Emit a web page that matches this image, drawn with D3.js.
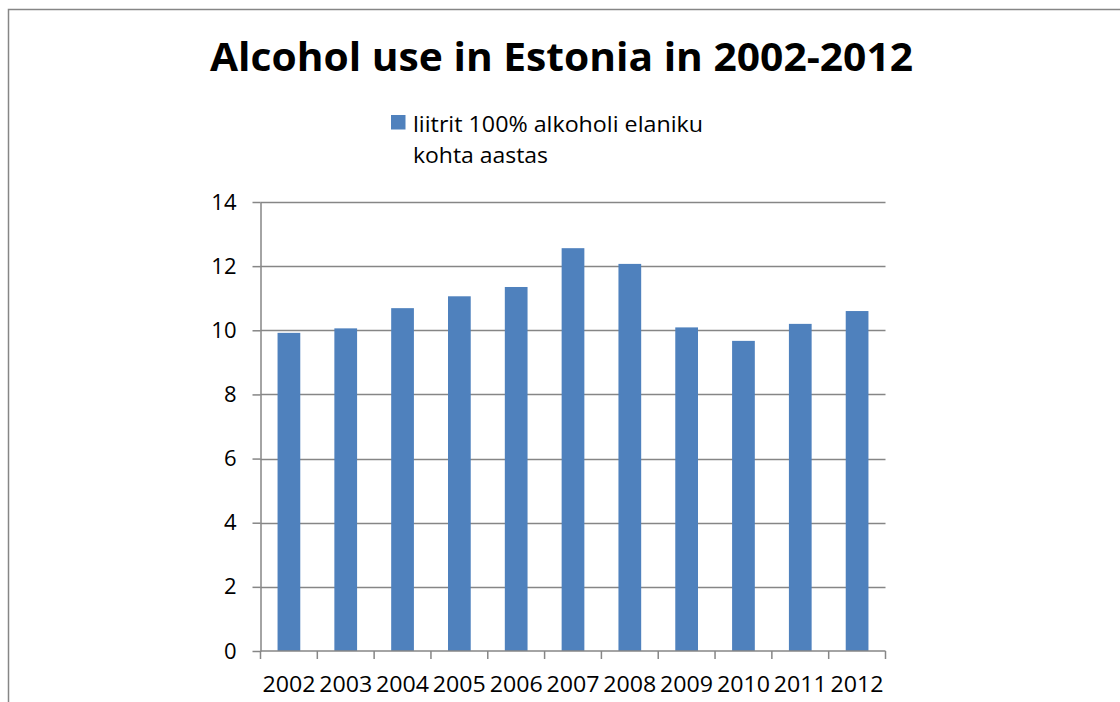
<!DOCTYPE html>
<html>
<head>
<meta charset="utf-8">
<script src="https://cdn.jsdelivr.net/npm/d3@7"></script>
<style>
  body { margin: 0; background: #fff; }
  svg { display: block; font-family: 'Open Sans', sans-serif; }
</style>
</head>
<body>
<svg id="chart" width="1120" height="702"></svg>
<script>
'use strict';

const years = ['2002', '2003', '2004', '2005', '2006', '2007', '2008', '2009', '2010', '2011', '2012'];
const litres = [9.92, 10.06, 10.69, 11.06, 11.35, 12.56, 12.07, 10.09, 9.67, 10.2, 10.6];
const yTicks = [0, 2, 4, 6, 8, 10, 12, 14];
const titleText = 'Alcohol use in Estonia in 2002-2012';
const legendLines = ['liitrit 100% alkoholi elaniku', 'kohta aastas'];

const svg = d3.select('#chart');
const plot = {left: 260.5, right: 885.5, top: 202, bottom: 651};
const barColor = '#4f81bd';
const lineColor = '#868686';

// outer chart border (runs off the page on the right and bottom)
svg.append('rect')
  .attr('x', 8.5)
  .attr('y', 9.5)
  .attr('width', 1130)
  .attr('height', 720)
  .attr('fill', 'none')
  .attr('stroke', '#868686')
  .attr('stroke-width', 1.5);

const x = d3.scaleBand()
  .domain(years)
  .range([plot.left, plot.right])
  .paddingInner(0.6)
  .paddingOuter(0.3);

const y = d3.scaleLinear()
  .domain([0, 14])
  .range([plot.bottom, plot.top]);

// gridlines
svg.append('g')
  .selectAll('line')
  .data(yTicks.filter(d => d > 0))
  .join('line')
  .attr('x1', plot.left)
  .attr('x2', plot.right)
  .attr('y1', d => Math.round(y(d)) + 0.5)
  .attr('y2', d => Math.round(y(d)) + 0.5)
  .attr('stroke', lineColor)
  .attr('stroke-width', 1.5);

// bars
svg.append('g')
  .selectAll('rect')
  .data(litres)
  .join('rect')
  .attr('x', (d, i) => x(years[i]))
  .attr('y', d => y(d))
  .attr('width', x.bandwidth())
  .attr('height', d => plot.bottom - y(d))
  .attr('fill', barColor);

// y axis
const yAxis = svg.append('g')
  .attr('transform', `translate(${plot.left},0)`)
  .call(d3.axisLeft(y).tickValues(yTicks).tickSize(8).tickPadding(16).tickSizeOuter(0));
yAxis.select('.domain').attr('stroke', lineColor).attr('stroke-width', 1.5);
yAxis.selectAll('.tick line').attr('stroke', lineColor).attr('stroke-width', 1.5);
yAxis.selectAll('.tick text')
  .attr('font-size', 22)
  .attr('font-family', "'Open Sans', sans-serif")
  .attr('fill', '#000');

// x axis: ticks sit on the category boundaries
const xEdge = d3.scaleLinear().domain([0, years.length]).range([plot.left, plot.right]);
const xAxis = svg.append('g')
  .attr('transform', `translate(0,${plot.bottom})`);
xAxis.append('line')
  .attr('x1', plot.left)
  .attr('x2', plot.right)
  .attr('stroke', lineColor)
  .attr('stroke-width', 1.5);
xAxis.selectAll('line.tick')
  .data(d3.range(years.length + 1))
  .join('line')
  .attr('class', 'tick')
  .attr('x1', d => xEdge(d))
  .attr('x2', d => xEdge(d))
  .attr('y1', 0)
  .attr('y2', 8)
  .attr('stroke', lineColor)
  .attr('stroke-width', 1.5);
xAxis.selectAll('text')
  .data(years)
  .join('text')
  .attr('x', (d, i) => (xEdge(i) + xEdge(i + 1)) / 2)
  .attr('y', 41)
  .attr('text-anchor', 'middle')
  .attr('font-size', 22)
  .attr('textLength', 53)
  .attr('lengthAdjust', 'spacingAndGlyphs')
  .text(d => d);

// title
svg.append('text')
  .attr('x', 561.5)
  .attr('y', 70.5)
  .attr('text-anchor', 'middle')
  .attr('font-size', 40)
  .attr('font-weight', 'bold')
  .attr('textLength', 703)
  .attr('lengthAdjust', 'spacingAndGlyphs')
  .text(titleText);

// legend
const legendWidths = [290, 135];
const legend = svg.append('g');
legend.append('rect')
  .attr('x', 391)
  .attr('y', 115)
  .attr('width', 14.5)
  .attr('height', 14.5)
  .attr('fill', barColor);
legend.selectAll('text')
  .data(legendLines)
  .join('text')
  .attr('x', 413)
  .attr('y', (d, i) => 131.5 + i * 31.5)
  .attr('font-size', 22)
  .attr('textLength', (d, i) => legendWidths[i])
  .attr('lengthAdjust', 'spacingAndGlyphs')
  .text(d => d);
</script>
</body>
</html>
